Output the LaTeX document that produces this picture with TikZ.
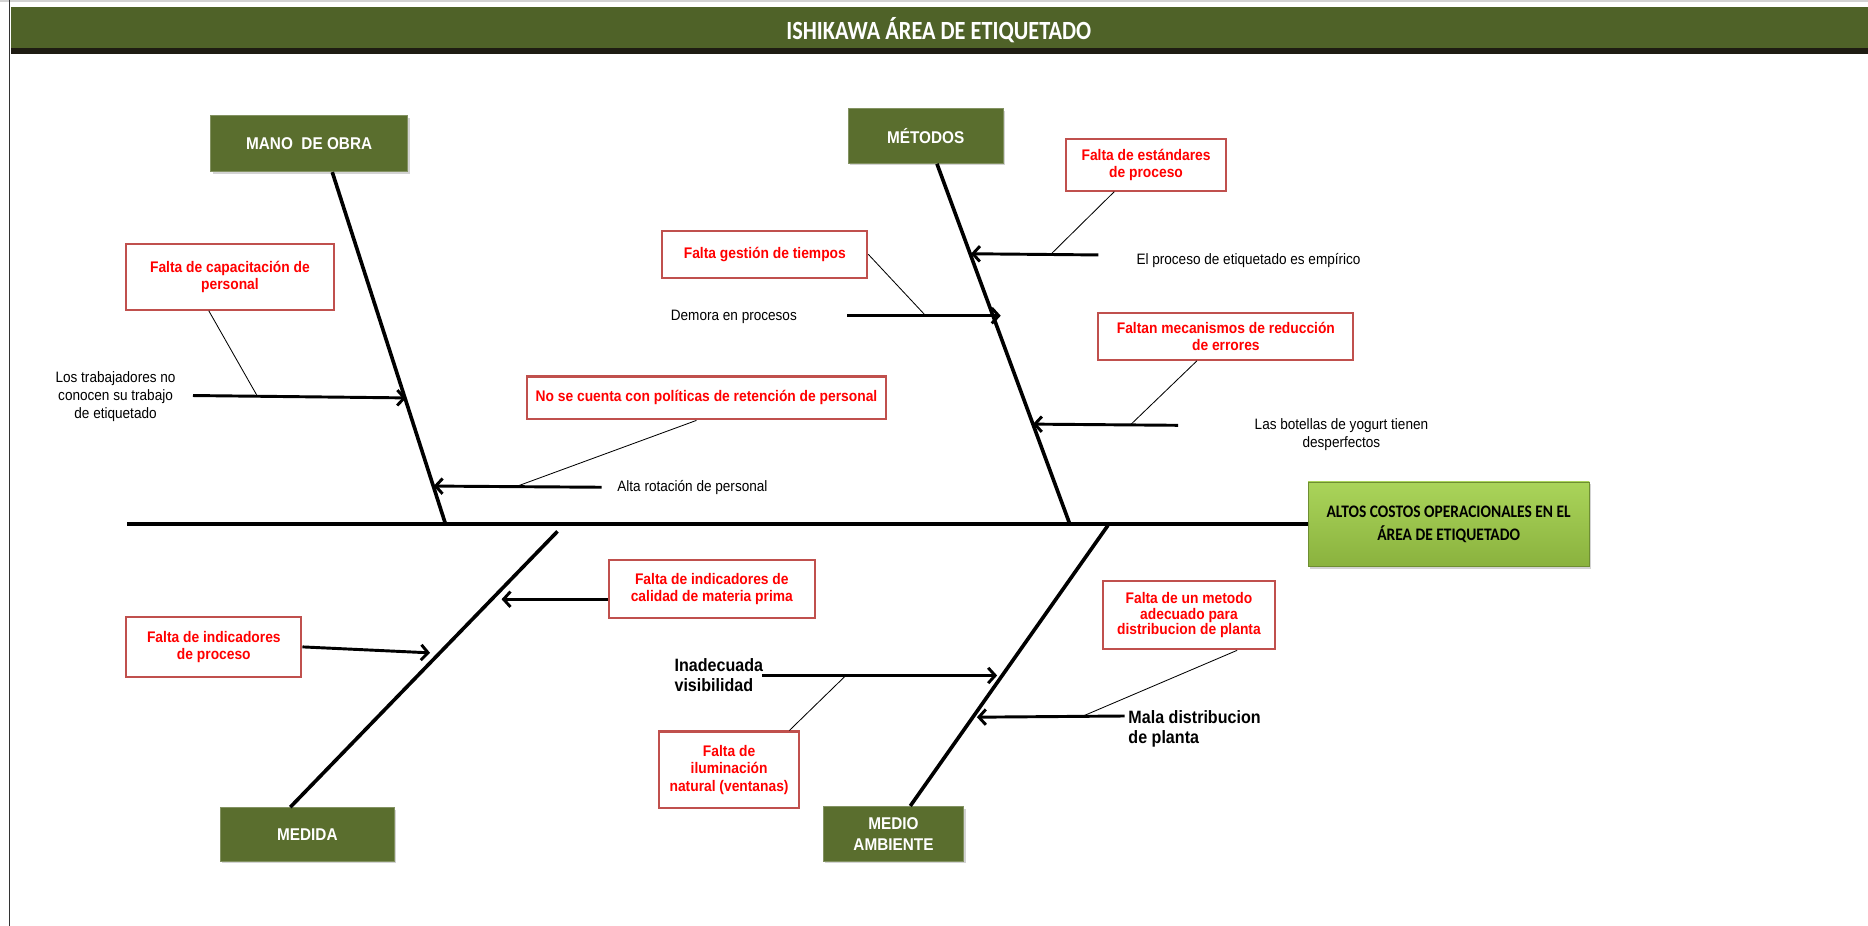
\documentclass[tikz,border=0pt]{standalone}
\usepackage{fontspec}
\setmainfont[FakeStretch=0.9]{Liberation Sans}
\newfontfamily\calibri[FakeStretch=0.88]{Carlito}
\newfontfamily\calibrinarrow[FakeStretch=0.85]{Carlito}
\usetikzlibrary{arrows.meta}
\usetikzlibrary{shadows}
\usetikzlibrary{positioning}
\definecolor{ttlgreen}{RGB}{79,98,40}
\definecolor{ttldark}{RGB}{30,28,18}
\definecolor{catgreen}{RGB}{90,110,46}
\definecolor{efftop}{RGB}{170,212,90}
\definecolor{effbot}{RGB}{138,178,62}
\definecolor{boxred}{RGB}{192,80,77}
\newlength\upx
\setlength\upx{0.8536pt}

\tikzset{
  catbox/.style={fill=catgreen, draw=catgreen!75!white, line width=0.8pt, text=white,
    font=\bfseries\fontsize{12.2}{15}\selectfont, align=center, inner sep=1pt,
    drop shadow={opacity=0.35, shadow xshift=1.5pt, shadow yshift=-1.5pt}},
  causebox/.style={draw=boxred, line width=1.5pt, fill=white, text=red,
    font=\bfseries\fontsize{11}{12.5}\selectfont, align=center, inner sep=1pt},
  note/.style={font=\fontsize{10.8}{13}\selectfont, align=center, inner sep=0pt},
  boldnote/.style={font=\bfseries\fontsize{12.8}{14.5}\selectfont, align=left, inner sep=0pt},
  bone/.style={line width=2.6pt},
  sub/.style={line width=2.1pt, -{Straight Barb[length=5pt,width=11pt]}},
  link/.style={line width=0.6pt},
}

\begin{document}
\begin{tikzpicture}[x=0.03cm, y=-0.03cm]
  \useasboundingbox (0,0) rectangle (1568,777);

  % title band
  \fill[gray!35] (0,0) rectangle (1568,2);
  \fill[ttlgreen] (9,6) rectangle (1568,40);
  \fill[ttldark] (9,40) rectangle (1568,45);
  \draw[line width=1pt, black!80] (8,0) -- (8,777);
  \node[text=white, font=\calibrinarrow\bfseries\fontsize{18.8}{20}\selectfont] (title) at (788,25) {ISHIKAWA ÁREA DE ETIQUETADO};

  % effect and categories
  \node[top color=efftop, bottom color=effbot, draw=effbot!80!black, line width=0.5pt,
        minimum width=236\upx, minimum height=71\upx, align=center,
        font=\calibri\bfseries\fontsize{12.6}{16}\selectfont,
        drop shadow={opacity=0.35, shadow xshift=1.5pt, shadow yshift=-1.5pt}] (effect) at (1216,440)
        {ALTOS COSTOS OPERACIONALES EN EL\\ÁREA DE ETIQUETADO};
  \node[catbox, minimum width=165\upx, minimum height=47\upx] (mano) at (259.5,120.5) {MANO\ \ DE OBRA};
  \node[catbox, minimum width=130\upx, minimum height=46\upx] (metodos) at (777,114) {MÉTODOS};
  \node[catbox, minimum width=146\upx, minimum height=45\upx] (medida) at (258,700.5) {MEDIDA};
  \node[catbox, minimum width=118\upx, minimum height=46\upx] (medio) at (750,700) {MEDIO\\AMBIENTE};

  % spine and bones
  \coordinate (spinestart) at (107,440);
  \coordinate (manobot) at (374,440);
  \coordinate (metbot) at (898,440);
  \coordinate (medtop) at (468,446);
  \coordinate (mediotop) at (930,441);
  \draw[line width=3pt] (spinestart) -- (effect.west);
  \draw[bone] (mano.309) -- (manobot);
  \draw[bone] (metodos.292) -- (metbot);
  \draw[bone] (medida.122) -- (medtop);
  \draw[bone] (medio.59) -- (mediotop);

  % causes
  \node[causebox, minimum width=174\upx, minimum height=55\upx] (capacit) at (193,232.5) {Falta de capacitación de\\personal};
  \node[causebox, minimum width=302\upx, minimum height=36\upx] (retencion) at (593,334) {No se cuenta con políticas de retención de personal};
  \node[causebox, minimum width=134\upx, minimum height=43\upx] (estandar) at (962,138.5) {Falta de estándares\\de proceso};
  \node[causebox, minimum width=172\upx, minimum height=39\upx] (gestion) at (642,213.5) {Falta gestión de tiempos};
  \node[causebox, minimum width=214\upx, minimum height=39\upx] (mecanismos) at (1029,282.5) {Faltan mecanismos de reducción\\de errores};
  \node[causebox, minimum width=173\upx, minimum height=49\upx] (calidad) at (597.5,494.5) {Falta de indicadores de\\calidad de materia prima};
  \node[causebox, minimum width=147\upx, minimum height=50\upx] (indproc) at (179.5,543) {Falta de indicadores\\de proceso};
  \node[causebox, minimum width=118\upx, minimum height=64\upx] (ilumin) at (612,646) {Falta de\\iluminación\\natural (ventanas)};
  \node[causebox, minimum width=144\upx, minimum height=57\upx, font=\bfseries\fontsize{11}{11}\selectfont] (metodo) at (998,516.5) {Falta de un metodo\\adecuado para\\distribucion de planta};

  % effects read on the bones
  \node[note] (trabaj) at (97,333) {Los trabajadores no\\conocen su trabajo\\de etiquetado};
  \node[note, anchor=west] (rotacion) at (518,409) {Alta rotación de personal};
  \node[note] (empirico) at (1048,219) {El proceso de etiquetado es empírico};
  \node[note] (demora) at (616,266) {Demora en procesos};
  \node[note] (botellas) at (1126,365) {Las botellas de yogurt tienen\\desperfectos};
  \node[boldnote, anchor=west] (inadec) at (566,566.5) {Inadecuada\\visibilidad};
  \node[boldnote, anchor=west] (maladist) at (947,611.5) {Mala distribucion\\de planta};

  % arrows onto the bones
  \coordinate (t1) at (162,332);  \coordinate (h1) at (341,334);
  \coordinate (t2) at (505,409);  \coordinate (h2) at (364,408);
  \coordinate (t3) at (922,214);  \coordinate (h3) at (815,213);
  \coordinate (t4) at (711,265);  \coordinate (h4) at (840,265);
  \coordinate (t5) at (989,357);  \coordinate (h5) at (867,356);
  \coordinate (h6) at (421,503);
  \coordinate (h7) at (361,548);
  \coordinate (t8) at (640,567);  \coordinate (h8) at (837,567);
  \coordinate (t9) at (944,601);  \coordinate (h9) at (820,602);
  \draw[sub] (t1) -- (h1);
  \draw[sub] (t2) -- (h2);
  \draw[sub] (t3) -- (h3);
  \draw[sub] (t4) -- (h4);
  \draw[sub] (t5) -- (h5);
  \draw[sub] (calidad.west |- h6) -- (h6);
  \draw[sub] (indproc.east) -- (h7);
  \draw[sub] (t8) -- (h8);
  \draw[sub] (t9) -- (h9);

  % thin links from the causes
  \coordinate (k1) at (216,332.5);
  \coordinate (k2) at (433,408.5);
  \coordinate (k3) at (882,213.5);
  \coordinate (k4) at (777,265);
  \coordinate (k5) at (949,356.5);
  \coordinate (k8) at (710,567);
  \coordinate (k9) at (908,601.5);
  \draw[link] (capacit.238) -- (k1);
  \draw[link] (retencion.246) -- (k2);
  \draw[link] (estandar.220) -- (k3);
  \draw[link] (gestion.east) -- (k4);
  \draw[link] (mecanismos.220) -- (k5);
  \draw[link] (ilumin.33) -- (k8);
  \draw[link] (metodo.324) -- (k9);
\end{tikzpicture}
\end{document}
